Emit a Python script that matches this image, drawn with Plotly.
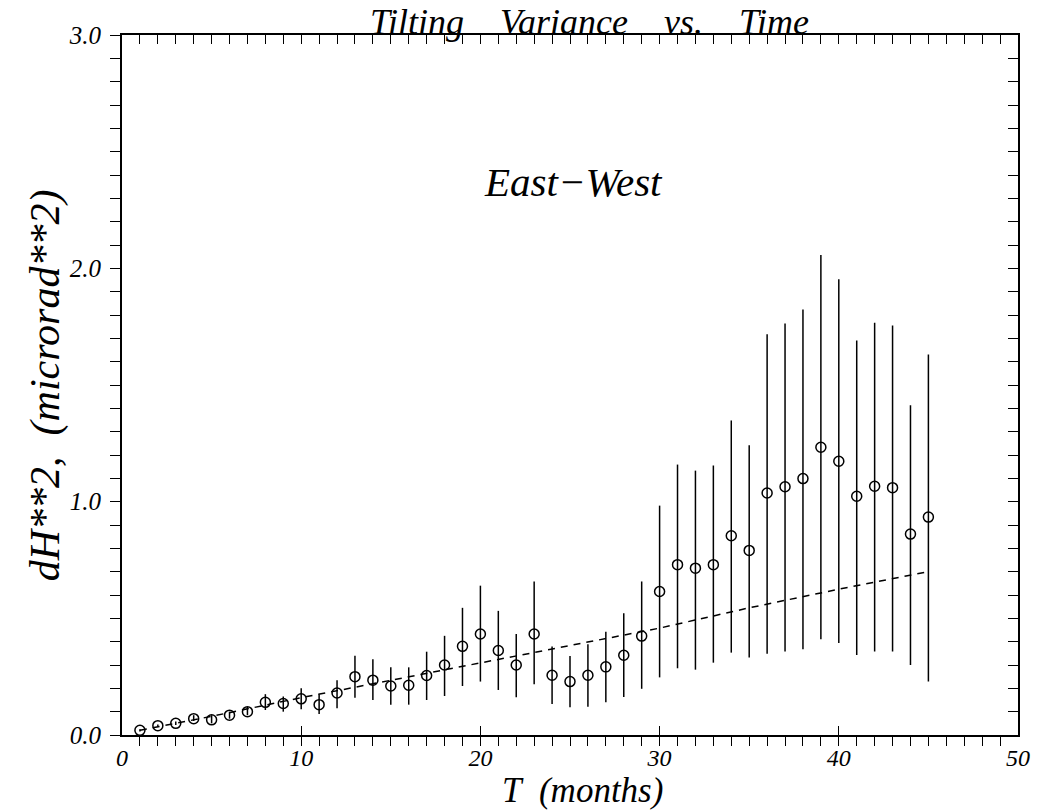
import plotly.graph_objects as go

# Tilt variance estimates per lag (months), with lower/upper bounds of the error bars
months = list(range(1, 46))
variance = [0.020, 0.040, 0.050, 0.070, 0.065, 0.085, 0.100, 0.140, 0.135, 0.155,
            0.130, 0.180, 0.250, 0.235, 0.210, 0.213, 0.255, 0.300, 0.380, 0.433,
            0.362, 0.300, 0.433, 0.256, 0.229, 0.256, 0.292, 0.342, 0.424, 0.615,
            0.730, 0.715, 0.730, 0.854, 0.791, 1.037, 1.064, 1.099, 1.233, 1.173,
            1.023, 1.066, 1.060, 0.861, 0.934]
lower = [0.015, 0.035, 0.043, 0.060, 0.050, 0.070, 0.085, 0.107, 0.100, 0.110,
         0.090, 0.115, 0.160, 0.150, 0.130, 0.130, 0.150, 0.167, 0.210, 0.229,
         0.193, 0.162, 0.217, 0.133, 0.119, 0.121, 0.140, 0.163, 0.198, 0.247,
         0.286, 0.280, 0.310, 0.353, 0.332, 0.348, 0.358, 0.368, 0.410, 0.394,
         0.343, 0.358, 0.358, 0.300, 0.229]
upper = [0.025, 0.045, 0.058, 0.085, 0.085, 0.100, 0.120, 0.175, 0.165, 0.200,
         0.175, 0.235, 0.340, 0.325, 0.290, 0.290, 0.357, 0.425, 0.545, 0.640,
         0.532, 0.433, 0.658, 0.379, 0.339, 0.389, 0.443, 0.522, 0.658, 0.983,
         1.159, 1.133, 1.155, 1.348, 1.242, 1.717, 1.764, 1.824, 2.057, 1.953,
         1.691, 1.767, 1.755, 1.413, 1.631]

# Model curve (dashed)
model_t = [1, 5, 10, 15, 20, 25, 30, 35, 40, 45]
model_v = [0.020, 0.080, 0.160, 0.235, 0.310, 0.385, 0.458, 0.545, 0.625, 0.700]

x_ticks = [0, 10, 20, 30, 40, 50]
x_tick_text = ["0", "10", "20", "30", "40", "50"]
y_ticks = [0.0, 1.0, 2.0, 3.0]
y_tick_text = ["0.0", "1.0", "2.0", "3.0"]

SERIF = "Liberation Serif"
INK = "black"
SP = "\u00a0"

err_plus = [u - v for u, v in zip(upper, variance)]
err_minus = [v - l for v, l in zip(variance, lower)]

fig = go.Figure()

fig.add_trace(go.Scatter(
    x=model_t, y=model_v, mode="lines",
    line=dict(color=INK, width=1.5, dash="7px,6px"),
    hoverinfo="skip", showlegend=False,
))

fig.add_trace(go.Scatter(
    x=months, y=variance, mode="markers",
    marker=dict(symbol="circle-open", size=10, color=INK, line=dict(width=1.5, color=INK)),
    error_y=dict(type="data", symmetric=False, array=err_plus, arrayminus=err_minus,
                 width=0, thickness=1.5, color=INK),
    showlegend=False,
))

# invisible trace to anchor the mirrored top/right axes
fig.add_trace(go.Scatter(x=[0], y=[0], xaxis="x2", yaxis="y2", mode="markers",
                         marker=dict(opacity=0), hoverinfo="skip", showlegend=False))

x_tick_font = dict(family=SERIF, size=24, color=INK, style="italic")
y_tick_font = dict(family=SERIF, size=25, color=INK, style="italic")

def label_font(size):
    return dict(family=SERIF, size=size, color=INK, style="italic")

line_style = dict(showline=True, linecolor=INK, linewidth=1.8, showgrid=False, zeroline=False)

fig.update_layout(
    width=1042, height=811,
    margin=dict(l=122, r=22, t=35, b=76),
    paper_bgcolor="white", plot_bgcolor="white",
    xaxis=dict(
        range=[0, 50], tickvals=x_ticks, ticktext=x_tick_text,
        ticks="inside", ticklen=9, tickwidth=1.3, tickcolor=INK,
        minor=dict(dtick=1, ticks="outside", ticklen=9, tickwidth=1.3, tickcolor=INK),
        tickfont=x_tick_font, **line_style,
    ),
    yaxis=dict(
        range=[0, 3], tickvals=y_ticks, ticktext=y_tick_text,
        ticks="outside", ticklen=10, tickwidth=1.3, tickcolor=INK,
        minor=dict(dtick=0.1, ticks="outside", ticklen=10, tickwidth=1.3, tickcolor=INK),
        tickfont=y_tick_font, ticklabelstandoff=4, **line_style,
    ),
    xaxis2=dict(
        overlaying="x", side="top", range=[0, 50], matches="x",
        tickvals=x_ticks, showticklabels=False,
        ticks="inside", ticklen=9, tickwidth=1.3, tickcolor=INK,
        minor=dict(dtick=1, ticks="inside", ticklen=9, tickwidth=1.3, tickcolor=INK),
        **line_style,
    ),
    yaxis2=dict(
        overlaying="y", side="right", range=[0, 3],
        tickvals=y_ticks, showticklabels=False,
        ticks="inside", ticklen=10, tickwidth=1.3, tickcolor=INK,
        minor=dict(dtick=0.1, ticks="inside", ticklen=10, tickwidth=1.3, tickcolor=INK),
        **line_style,
    ),
    annotations=[
        dict(text=f"Tilting{SP*4}Variance{SP*4}vs.{SP*4}Time", xref="paper", yref="paper",
             x=0.522, y=1, xanchor="center", yanchor="middle", yshift=13, showarrow=False,
             font=label_font(36)),
        dict(text=f"T{SP*2}(months)", xref="paper", yref="paper",
             x=0.5145, y=0, xanchor="center", yanchor="middle", yshift=-55, showarrow=False,
             font=label_font(35)),
        dict(text=f"dH**2,{SP*2}(microrad**2)", xref="paper", yref="paper",
             x=-0.0857, y=0.5, xanchor="center", yanchor="middle", textangle=-90, showarrow=False,
             font=label_font(42)),
        dict(text="East\u2212West", xref="x", yref="y", x=25.2, y=2.37, showarrow=False,
             font=label_font(41)),
    ],
)

fig.write_html("out.html")
